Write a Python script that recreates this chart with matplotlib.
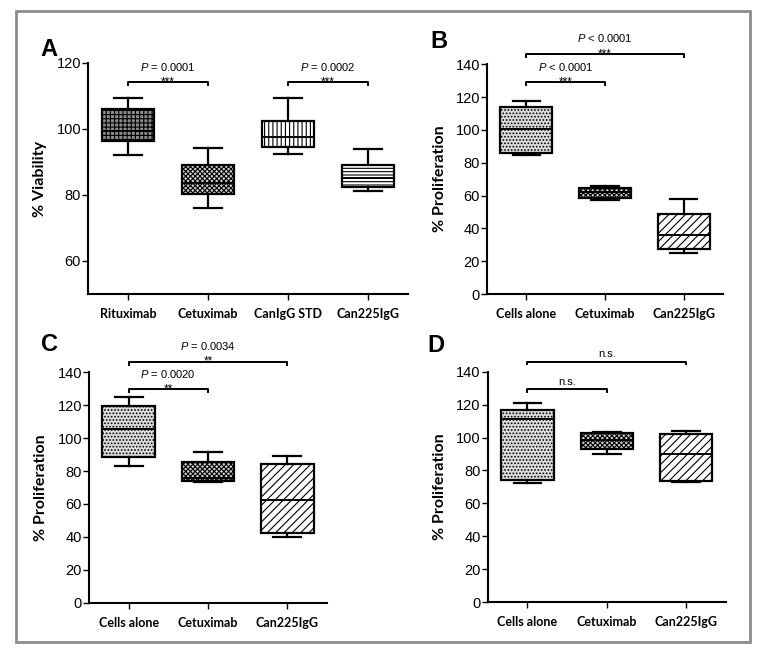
import numpy as np
import matplotlib
matplotlib.use("Agg")
import matplotlib.pyplot as plt
from matplotlib.patches import Rectangle

plt.rcParams['font.family'] = ['Liberation Sans', 'DejaVu Sans']
plt.rcParams['mathtext.fontset'] = 'custom'
plt.rcParams['mathtext.rm'] = 'Liberation Sans'
plt.rcParams['mathtext.it'] = 'Liberation Sans:italic'
plt.rcParams['hatch.linewidth'] = 0.8

# ---- data ----
# each box: whisker low, q1, median, q3, whisker high
cats_a = ["Rituximab", "Cetuximab", "CanIgG STD", "Can225IgG"]
whislo_a = [92.2, 76.0, 92.4, 81.2]
q1_a = [96.4, 80.3, 94.6, 82.3]
med_a = [99.4, 83.6, 97.5, 85.2]
q3_a = [106.0, 89.0, 102.4, 89.1]
whishi_a = [109.5, 94.2, 109.5, 93.8]

cats_bcd = ["Cells alone", "Cetuximab", "Can225IgG"]

whislo_b = [84.8, 57.5, 25.0]
q1_b = [86.0, 58.3, 27.3]
med_b = [100.3, 62.0, 36.2]
q3_b = [113.9, 64.8, 48.5]
whishi_b = [117.4, 65.7, 57.6]

whislo_c = [83.0, 73.2, 39.8]
q1_c = [88.5, 74.0, 42.5]
med_c = [105.4, 75.6, 62.6]
q3_c = [119.7, 85.7, 84.1]
whishi_c = [125.0, 91.4, 89.2]

whislo_d = [72.5, 89.7, 73.0]
q1_d = [74.0, 93.2, 73.7]
med_d = [111.0, 98.3, 89.9]
q3_d = [117.0, 103.0, 102.2]
whishi_d = [121.0, 103.3, 104.1]

# significance brackets: (from, to, level, label, stars)
brackets_a = [(0, 1, 114.2, "$P$ = 0.0001", "***"), (2, 3, 114.2, "$P$ = 0.0002", "***")]
brackets_b = [(0, 1, 129.0, "$P$ < 0.0001", "***"), (0, 2, 146.3, "$P$ < 0.0001", "***")]
brackets_c = [(0, 1, 129.6, "$P$ = 0.0020", "**"), (0, 2, 146.4, "$P$ = 0.0034", "**")]
brackets_d = [(0, 1, 129.4, "n.s.", ""), (0, 2, 146.2, "n.s.", "")]

hatches_a = [("#8a8a8a", "++++"), ("#d0d0d0", "xxxxxxx"), ("#ffffff", "||||"), ("#ffffff", "-----")]
hatches_bcd = [("#dcdcdc", "....."), ("#d0d0d0", "xxxxxxx"), ("#ffffff", "////")]

W, H = 763, 654
fig = plt.figure(figsize=(W / 100, H / 100), dpi=100)
fig.patches.append(Rectangle((16 / W, 1 - 642 / H), (750 - 16) / W, (642 - 11) / H,
                             transform=fig.transFigure, fill=False,
                             edgecolor="#8c8c8c", linewidth=2))


def px_axes(l, r, t, b):
    return fig.add_axes([l / W, 1 - b / H, (r - l) / W, (b - t) / H])


def draw_panel(ax, box, cats, lo, q1, med, q3, hi, hatches, ylim, yticks, ylabel,
               brackets, letter, letter_xy, ylabel_px):
    stats = []
    for i in range(len(cats)):
        stats.append(dict(whislo=lo[i], q1=q1[i], med=med[i], q3=q3[i], whishi=hi[i]))
    bp = ax.bxp(stats, positions=range(len(cats)), widths=0.66, patch_artist=True,
                showfliers=False,
                boxprops=dict(linewidth=1.6, edgecolor="black"),
                medianprops=dict(color="black", linewidth=1.4),
                whiskerprops=dict(color="black", linewidth=1.6),
                capprops=dict(color="black", linewidth=1.6),
                capwidths=0.35)
    for b, (fc, h) in zip(bp["boxes"], hatches):
        b.set_facecolor(fc)
        b.set_hatch(h)
    ax.set_xlim(-0.5, len(cats) - 0.5)
    ax.set_ylim(*ylim)
    ax.set_yticks(yticks)
    ax.set_xticks(range(len(cats)))
    ax.set_xticklabels(cats, fontweight="bold", fontsize=9, family=["Lato", "DejaVu Sans"])
    for s in ("top", "right"):
        ax.spines[s].set_visible(False)
    for s in ("left", "bottom"):
        ax.spines[s].set_linewidth(1.5)
    ax.tick_params(axis="y", labelsize=10.5, length=4, width=1, pad=1)
    ax.tick_params(axis="x", length=4, width=1, pad=6)
    ax.set_ylabel(ylabel, fontsize=11.5, fontweight="bold", family=["Lato", "DejaVu Sans"])
    l, r = box[0], box[1]
    ax.yaxis.set_label_coords((ylabel_px - l) / (r - l), 0.5)
    span = ylim[1] - ylim[0]
    tick = span * 0.012
    for x0, x1, y, lab, stars in brackets:
        ax.plot([x0, x0, x1, x1], [y - tick, y, y, y - tick], color="black",
                linewidth=1.4, clip_on=False)
        xm = (x0 + x1) / 2
        if stars:
            ax.text(xm, y - span * 0.013, stars, ha="center", va="baseline", fontsize=8.5)
            ax.text(xm, y + span * 0.05, lab, ha="center", va="baseline", fontsize=8)
        else:
            ax.text(xm, y + span * 0.018, lab, ha="center", va="baseline", fontsize=8)
    fig.text(letter_xy[0] / W, 1 - letter_xy[1] / H, letter, fontsize=17,
             fontweight="bold", ha="center", va="center")


box_a = (88, 408, 63, 294)
ax_a = px_axes(*box_a)
draw_panel(ax_a, box_a, cats_a, whislo_a, q1_a, med_a, q3_a, whishi_a, hatches_a,
           (50, 120), [60, 80, 100, 120], "% Viability", brackets_a, "A", (49, 50), 47)

box_b = (487, 723, 64.3, 294)
ax_b = px_axes(*box_b)
draw_panel(ax_b, box_b, cats_bcd, whislo_b, q1_b, med_b, q3_b, whishi_b, hatches_bcd,
           (0, 140), range(0, 141, 20), "% Proliferation", brackets_b, "B", (439, 42), 447)

box_c = (89, 327, 372.3, 602.7)
ax_c = px_axes(*box_c)
draw_panel(ax_c, box_c, cats_bcd, whislo_c, q1_c, med_c, q3_c, whishi_c, hatches_bcd,
           (0, 140), range(0, 141, 20), "% Proliferation", brackets_c, "C", (50, 345), 48)

box_d = (487.7, 726, 371.7, 602)
ax_d = px_axes(*box_d)
draw_panel(ax_d, box_d, cats_bcd, whislo_d, q1_d, med_d, q3_d, whishi_d, hatches_bcd,
           (0, 140), range(0, 141, 20), "% Proliferation", brackets_d, "D", (436, 346), 447)

fig.savefig("out.png", dpi=100)
